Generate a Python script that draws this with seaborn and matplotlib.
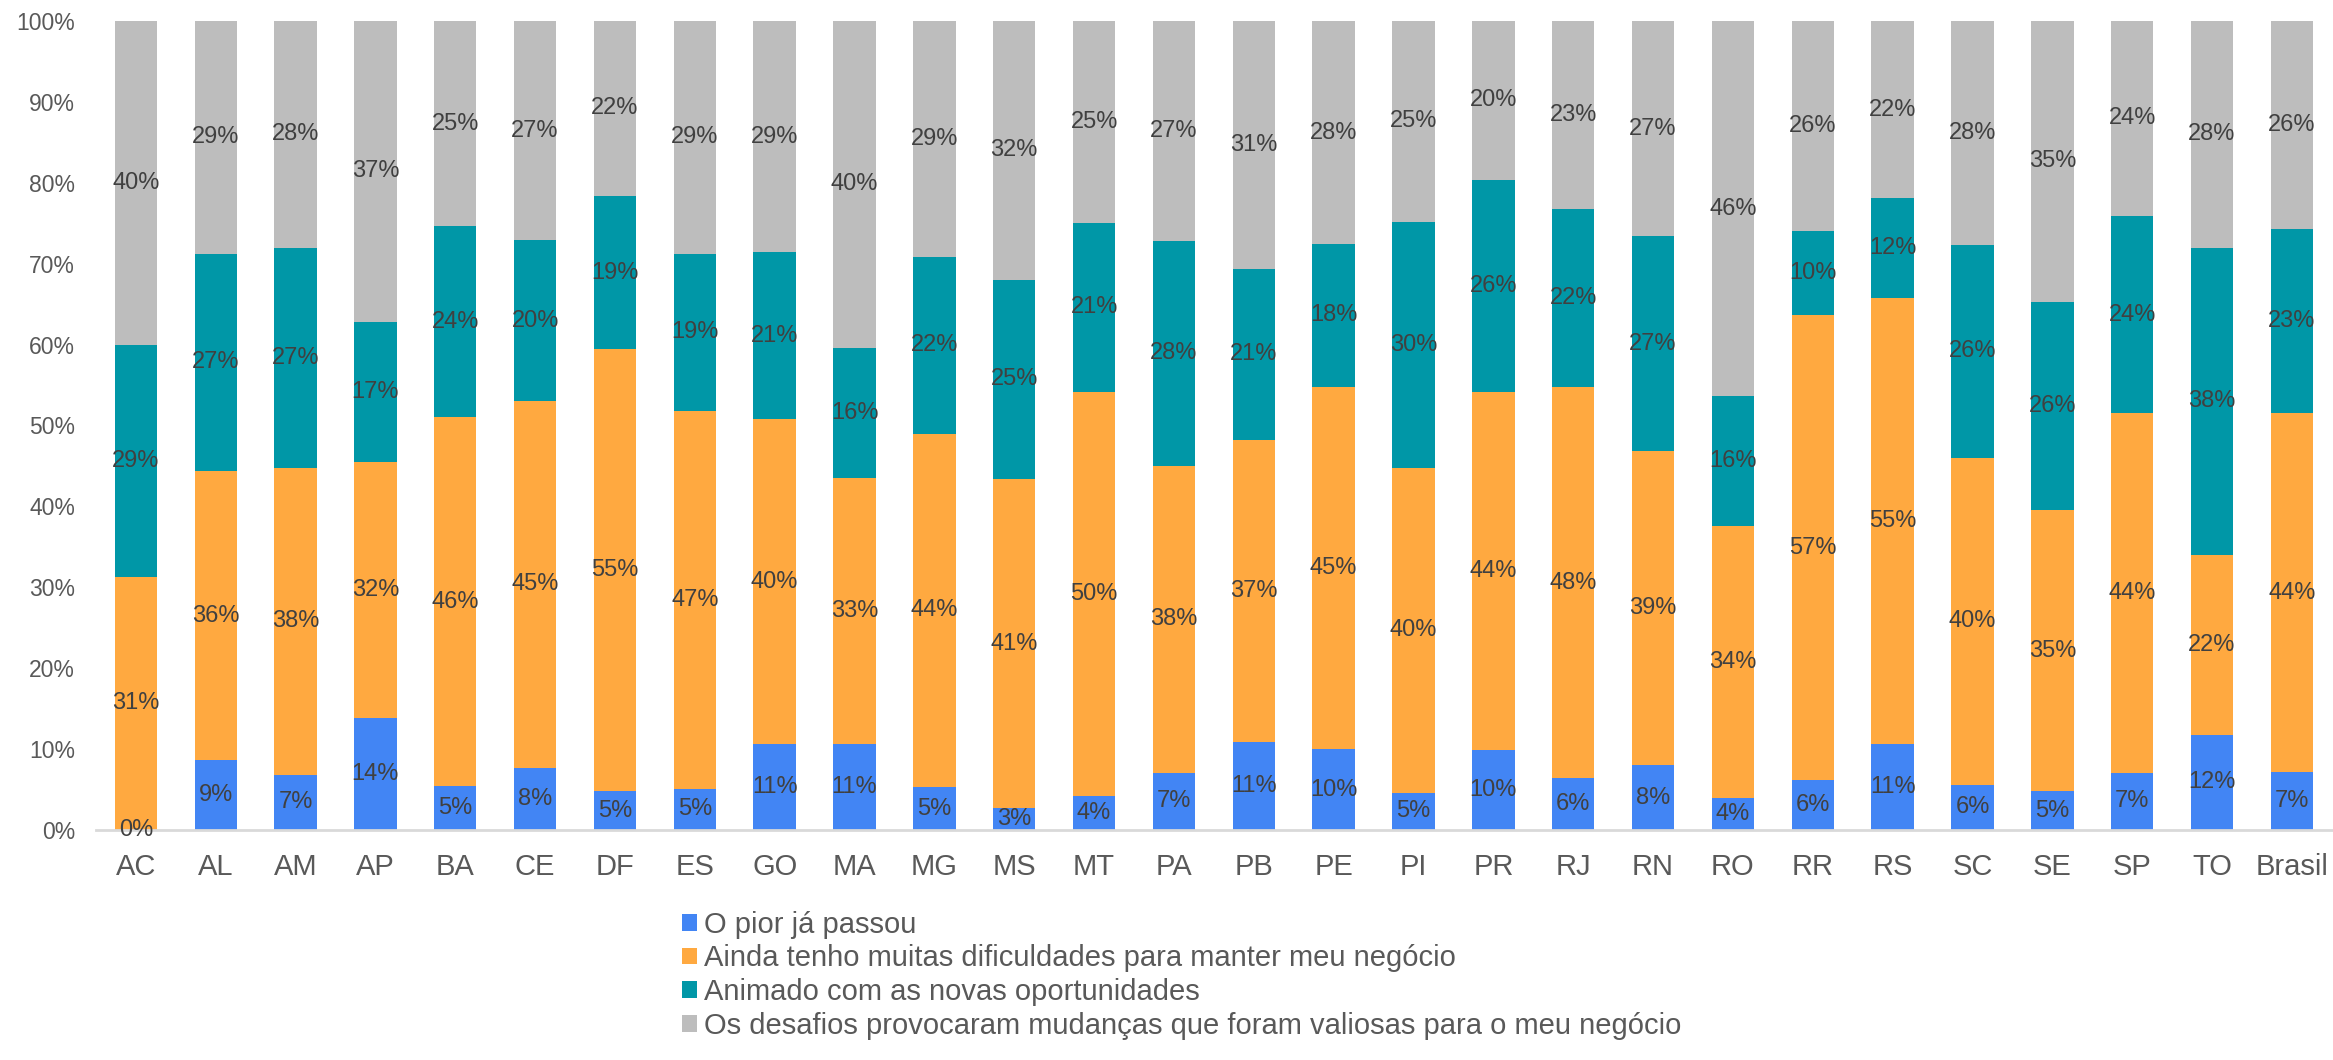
import numpy as np
import pandas as pd
import matplotlib
matplotlib.use('Agg')
import matplotlib.pyplot as plt
from matplotlib.patches import Patch
import seaborn as sns

# dados (percentuais por UF)
ufs = ['AC', 'AL', 'AM', 'AP', 'BA', 'CE', 'DF', 'ES', 'GO', 'MA', 'MG', 'MS', 'MT', 'PA',
       'PB', 'PE', 'PI', 'PR', 'RJ', 'RN', 'RO', 'RR', 'RS', 'SC', 'SE', 'SP', 'TO', 'Brasil']
pior_passou = [0.0, 8.6, 6.8, 13.9, 5.4, 7.7, 4.8, 5.1, 10.6, 10.6, 5.3, 2.7, 4.2, 7.1,
               10.9, 10.0, 4.6, 9.9, 6.4, 8.0, 3.9, 6.2, 10.6, 5.6, 4.8, 7.1, 11.8, 7.2]
dificuldades = [31.3, 35.8, 38.0, 31.6, 45.6, 45.3, 54.6, 46.7, 40.2, 32.9, 43.7, 40.7, 50.0, 37.9,
                37.3, 44.8, 40.2, 44.2, 48.3, 38.8, 33.7, 57.4, 55.2, 40.4, 34.7, 44.4, 22.2, 44.3]
animado = [28.7, 26.8, 27.2, 17.3, 23.6, 19.9, 19.0, 19.4, 20.6, 16.1, 21.8, 24.6, 20.8, 27.8,
           21.2, 17.6, 30.4, 26.3, 22.1, 26.6, 16.0, 10.4, 12.3, 26.3, 25.8, 24.4, 38.0, 22.8]
desafios = [40.0, 28.8, 28.0, 37.2, 25.4, 27.1, 21.6, 28.8, 28.6, 40.4, 29.2, 32.0, 25.0, 27.2,
            30.6, 27.6, 24.8, 19.6, 23.2, 26.6, 46.4, 26.0, 21.9, 27.7, 34.7, 24.1, 28.0, 25.7]

series_names = ['O pior já passou',
                'Ainda tenho muitas dificuldades para manter meu negócio',
                'Animado com as novas oportunidades',
                'Os desafios provocaram mudanças que foram valiosas para o meu negócio']
cores = ['#4285F4', '#FFA940', '#0097A7', '#BDBDBD']

df = pd.DataFrame({'uf': ufs, 's0': pior_passou, 's1': dificuldades,
                   's2': animado, 's3': desafios})
cols = ['s0', 's1', 's2', 's3']
cum = df[cols].cumsum(axis=1)

sns.set_style('white')
plt.rcParams['font.family'] = ['Liberation Sans', 'DejaVu Sans']

fig = plt.figure(figsize=(23.33, 10.6), dpi=100)
ax = fig.add_axes([0.0411, 0.2170, 0.9584, 0.7632])

# barras empilhadas: desenha do total para baixo
for i in range(3, -1, -1):
    sns.barplot(x=df['uf'], y=cum[cols[i]], color=cores[i], saturation=1,
                width=0.53, linewidth=0, ax=ax)

# rótulos no centro de cada segmento
for j in range(len(ufs)):
    base = 0
    for c in cols:
        v = df.loc[j, c]
        ax.text(j, base + v / 2, f'{v:.0f}%', ha='center', va='center',
                fontsize=17, color='#404040')
        base += v

ax.set_xlim(-0.5, 27.5)
ax.set_ylim(0, 100)
ax.set_yticks(np.arange(0, 101, 10))
ax.set_yticklabels([f'{t}%' for t in range(0, 101, 10)], fontsize=16.5, color='#595959')
ax.tick_params(axis='x', labelsize=21, labelcolor='#595959', length=0, pad=16.5)
ax.tick_params(axis='y', length=0, pad=15)
ax.set_xlabel('')
ax.set_ylabel('')
for s in ['top', 'right', 'left']:
    ax.spines[s].set_visible(False)
ax.spines['bottom'].set_color('#D9D9D9')
ax.spines['bottom'].set_linewidth(2)

handles = [Patch(facecolor=c, edgecolor='none') for c in cores]
leg = fig.legend(handles, series_names, loc='upper left', bbox_to_anchor=(0.2925, 0.141),
                 frameon=False, fontsize=21, handlelength=0.51, handleheight=0.51,
                 handletextpad=0.24, labelspacing=0.2, borderpad=0, borderaxespad=0)
for t in leg.get_texts():
    t.set_color('#595959')

plt.savefig('out.png', dpi=100)
plt.close()
